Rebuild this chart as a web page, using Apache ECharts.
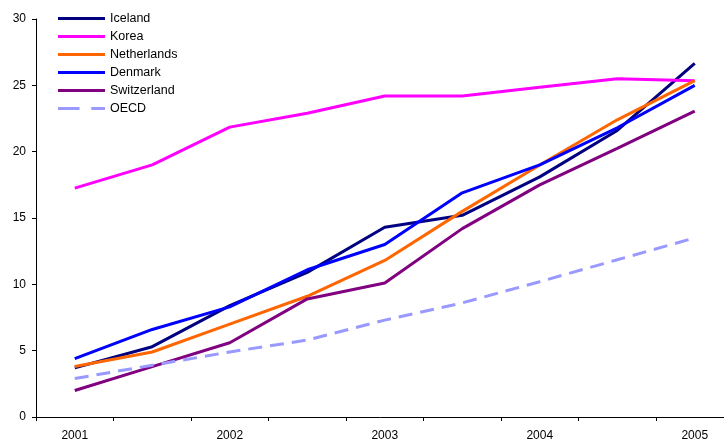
<!DOCTYPE html>
<html>
<head>
<meta charset="utf-8">
<script src="https://cdn.jsdelivr.net/npm/echarts@6/dist/echarts.min.js"></script>
<style>html,body{margin:0;padding:0;background:#fff;}#c{width:724px;height:439px;}</style>
</head>
<body>
<div id="c"></div>
<script>
const categories = ['2001', '', '2002', '', '2003', '', '2004', '', '2005'];
const iceland     = [3.7, 5.3, 8.4, 10.9, 14.3, 15.2, 18.1, 21.6, 26.65];
const korea       = [17.25, 19.0, 21.85, 22.9, 24.2, 24.2, 24.85, 25.5, 25.35];
const netherlands = [3.8, 4.9, 7.0, 9.1, 11.8, 15.5, 19.0, 22.4, 25.35];
const denmark     = [4.4, 6.6, 8.3, 11.1, 13.0, 16.9, 19.0, 21.8, 25.0];
const switzerland = [2.0, 3.8, 5.6, 8.9, 10.1, 14.2, 17.5, 20.25, 23.05];
const oecd        = [2.9, 3.9, 4.9, 5.8, 7.3, 8.6, 10.2, 11.85, 13.5];
const yTicks = { min: 0, max: 30, interval: 5 };

const font = '"Liberation Sans", Arial, sans-serif';
function mk(name, data, color, dashed) {
  return {
    name: name, type: 'line', data: data, symbol: 'none', smooth: false,
    lineStyle: { color: color, width: 3, type: dashed ? [14, 8] : 'solid', cap: 'butt' },
    itemStyle: { color: color },
    emphasis: { disabled: true }
  };
}
const solidIcon = 'path://M0,0h48v3h-48z';
const dashIcon = 'path://M0,0h22v3h-22z M34,0h14v3h-14z';
const chart = echarts.init(document.getElementById('c'), null, { renderer: 'canvas' });
chart.setOption({
  animation: false,
  backgroundColor: '#fff',
  grid: { left: 36, top: 19, bottom: 22, right: -9.5, containLabel: false, outerBoundsMode: 'none' },
  legend: {
    orient: 'vertical', left: 58, top: 12, padding: 0, itemWidth: 47, itemHeight: 3, itemGap: 5,
    textStyle: { fontFamily: font, fontSize: 12.5, color: '#000' },
    data: [
      { name: 'Iceland', icon: solidIcon },
      { name: 'Korea', icon: solidIcon },
      { name: 'Netherlands', icon: solidIcon },
      { name: 'Denmark', icon: solidIcon },
      { name: 'Switzerland', icon: solidIcon },
      { name: 'OECD', icon: dashIcon }
    ]
  },
  xAxis: {
    type: 'category', data: categories, boundaryGap: true,
    axisLine: { lineStyle: { color: '#000', width: 1 } },
    axisTick: { show: true, interval: 0, length: 4, lineStyle: { color: '#000' } },
    axisLabel: { interval: 0, margin: 12.5, fontFamily: font, fontSize: 12, color: '#000' },
    splitLine: { show: false }
  },
  yAxis: {
    type: 'value', min: yTicks.min, max: yTicks.max, interval: yTicks.interval,
    axisLine: { show: true, lineStyle: { color: '#000', width: 1 } },
    axisTick: { show: true, length: 4, lineStyle: { color: '#000' } },
    axisLabel: { margin: 10, fontFamily: font, fontSize: 12, color: '#000' },
    splitLine: { show: false }
  },
  series: [
    mk('Iceland', iceland, '#000080'),
    mk('Korea', korea, '#FF00FF'),
    mk('Netherlands', netherlands, '#FF6600'),
    mk('Denmark', denmark, '#0000FF'),
    mk('Switzerland', switzerland, '#800080'),
    mk('OECD', oecd, '#9999FF', true)
  ]
});
</script>
</body>
</html>
